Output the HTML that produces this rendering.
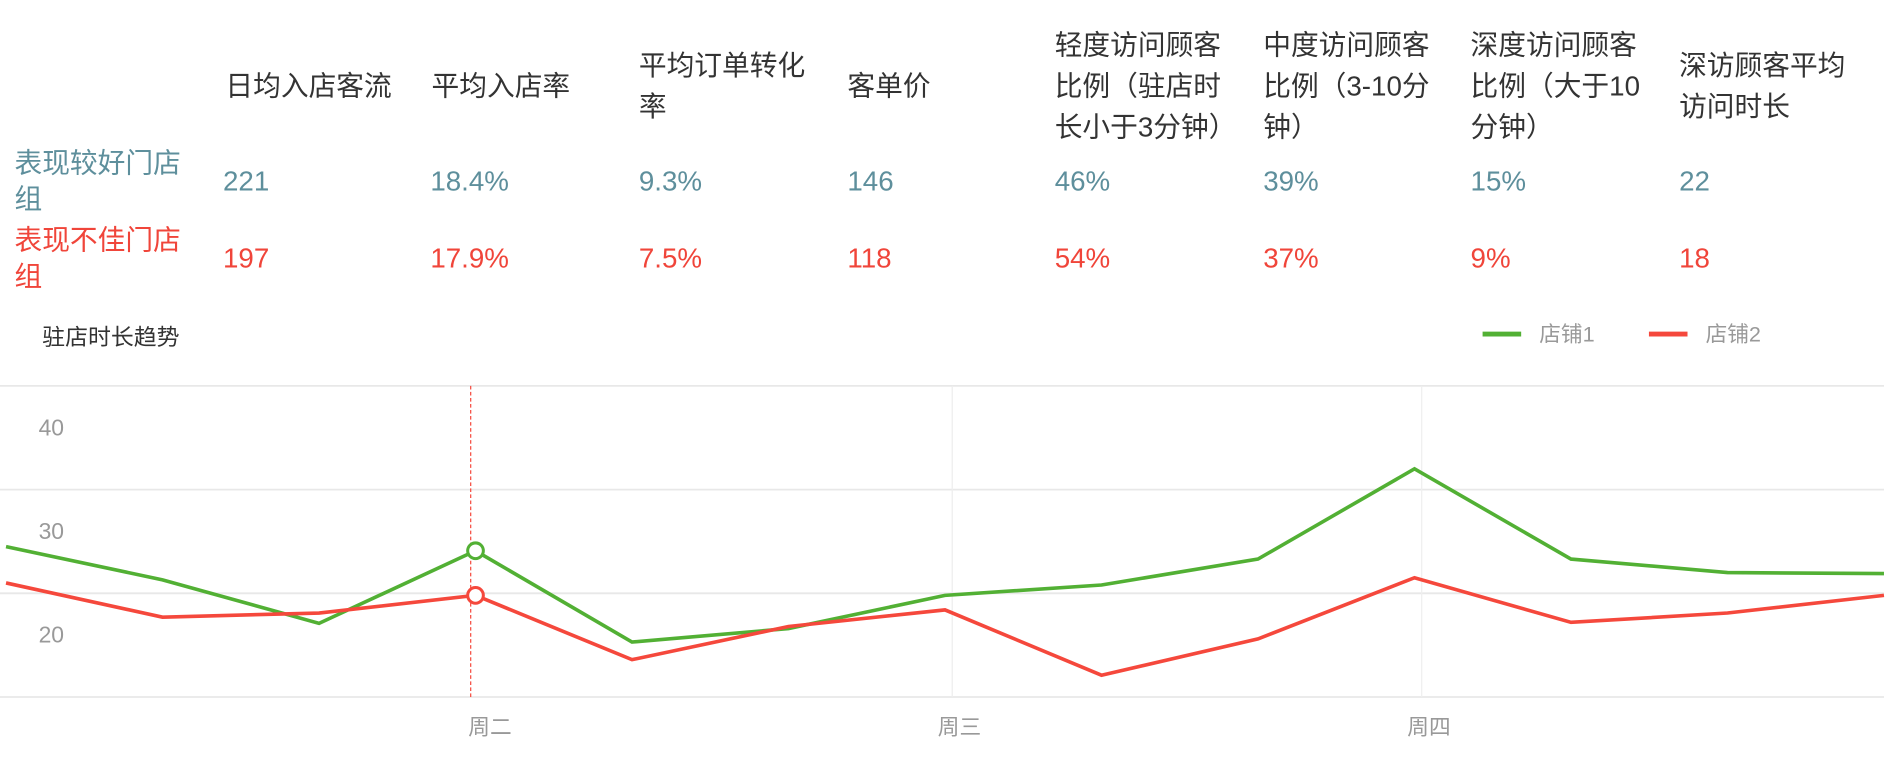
<!DOCTYPE html>
<html><head><meta charset="utf-8">
<style>
html,body{margin:0;padding:0;background:#fff;overflow:hidden;width:1890px;height:779px}
#root{position:absolute;left:0;top:0;width:1568px;height:646px;transform:scale(1.20536,1.2059);transform-origin:0 0;font-family:"Liberation Sans","Noto Sans CJK SC",sans-serif}
.h{position:absolute;top:20px;height:102px;width:155px;display:flex;align-items:center;font-size:23px;line-height:34px;color:#333}
.v{position:absolute;font-size:23px}
.g{color:#5e8f9c}.r{color:#f0453a}
.rl{position:absolute;left:12px;width:150px;font-size:23px;line-height:30px}
</style></head><body>
<div id="root">
<div>
<div class="h" style="left:187px">日均入店客流</div>
<div class="h" style="left:358px">平均入店率</div>
<div class="h" style="left:530px;width:145px">平均订单转化率</div>
<div class="h" style="left:703px">客单价</div>
<div class="h" style="left:875px">轻度访问顾客比例（驻店时长小于3分钟）</div>
<div class="h" style="left:1048px">中度访问顾客比例（3-10分钟）</div>
<div class="h" style="left:1220px">深度访问顾客比例（大于10分钟）</div>
<div class="h" style="left:1393px;width:145px">深访顾客平均访问时长</div>
<div class="rl g" style="top:120px">表现较好门店组</div>
<div class="rl r" style="top:184px">表现不佳门店组</div>
<div class="v g" style="left:185px;top:137px">221</div>
<div class="v g" style="left:357px;top:137px">18.4%</div>
<div class="v g" style="left:530px;top:137px">9.3%</div>
<div class="v g" style="left:703px;top:137px">146</div>
<div class="v g" style="left:875px;top:137px">46%</div>
<div class="v g" style="left:1048px;top:137px">39%</div>
<div class="v g" style="left:1220px;top:137px">15%</div>
<div class="v g" style="left:1393px;top:137px">22</div>
<div class="v r" style="left:185px;top:201px">197</div>
<div class="v r" style="left:357px;top:201px">17.9%</div>
<div class="v r" style="left:530px;top:201px">7.5%</div>
<div class="v r" style="left:703px;top:201px">118</div>
<div class="v r" style="left:875px;top:201px">54%</div>
<div class="v r" style="left:1048px;top:201px">37%</div>
<div class="v r" style="left:1220px;top:201px">9%</div>
<div class="v r" style="left:1393px;top:201px">18</div>
</div>
<svg id="chart" width="1568" height="646" style="position:absolute;left:0;top:0"></svg>
</div>
<script>
const categories=['','','','周二','','','周三','','','周四','','',''];
const store1=[24.5,21.3,17.1,24.1,15.3,16.6,19.8,20.8,23.3,32.0,23.3,22.0,21.9];
const store2=[21.0,17.7,18.1,19.8,13.6,16.8,18.4,12.1,15.6,21.5,17.2,18.1,19.8];
const yTicks=[40,30,20];
const gridVals=[40,30,20,10];
const seriesNames=['店铺1','店铺2'];
const colors=['#52b034','#f5483c'];
const NS='http://www.w3.org/2000/svg';
const svg=document.getElementById('chart');
const x=i=>5+i*(1563-5)/12;
const y=v=>578-(v-10)*8.6;
function mk(t,a){const e=document.createElementNS(NS,t);for(const k in a)e.setAttribute(k,a[k]);svg.appendChild(e);return e;}
let t=mk('text',{x:35,y:286,'font-size':19,fill:'#333'});t.textContent='驻店时长趋势';


gridVals.forEach(v=>{const l=mk('line',{x1:0,x2:1563,y1:y(v),y2:y(v),stroke:'#e8e8e8','stroke-width':1.5});

});
yTicks.forEach(v=>{const e=mk('text',{x:32,y:y(v)+41,'font-size':19,fill:'#999'});e.textContent=v;

});
categories.forEach((c,i)=>{if(!c)return;
if(i!==3){const l=mk('line',{x1:x(i)+6,x2:x(i)+6,y1:320,y2:578,stroke:'#eee','stroke-width':1});

}
const e=mk('text',{x:x(i)+12,y:609,'font-size':18,fill:'#999','text-anchor':'middle'});e.textContent=c;

});
const cur=mk('line',{x1:x(3)-4,x2:x(3)-4,y1:320,y2:578,stroke:'#f5483c','stroke-width':1,'stroke-dasharray':'3,2'});


[store1,store2].forEach((s,k)=>{
const p=mk('polyline',{points:s.map((v,i)=>x(i)+','+y(v)).join(' '),fill:'none',stroke:colors[k],'stroke-width':3,'stroke-linejoin':'miter'});


const c=mk('circle',{cx:x(3),cy:y(s[3]),r:6.5,fill:'#fff',stroke:colors[k],'stroke-width':2.5});


const lx=[1230,1368][k];
const ll=mk('line',{x1:lx,x2:lx+32,y1:277,y2:277,stroke:colors[k],'stroke-width':4});


const lt=mk('text',{x:lx+47,y:283,'font-size':18,fill:'#999'});lt.textContent=seriesNames[k];


});
</script>
</body></html>
